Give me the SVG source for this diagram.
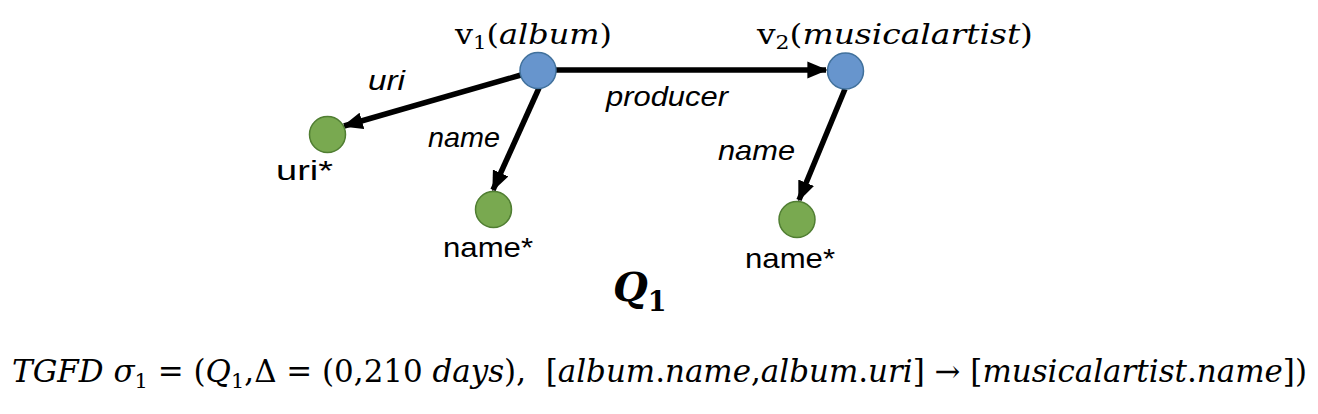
<svg xmlns="http://www.w3.org/2000/svg" width="1318" height="414" viewBox="0 0 1318 414">
<style>
.math{font-family:"DejaVu Serif","Liberation Serif",serif;fill:#000}
.it{font-style:italic}
.lbl{font-family:"Liberation Sans","Open Sans",sans-serif;font-size:28px;font-style:italic;fill:#000}
.attr{font-family:"Liberation Sans","Open Sans",sans-serif;font-size:28px;fill:#000}
.blue{fill:#6795CD;stroke:#41719C;stroke-width:1.5}
.green{fill:#79A950;stroke:#507E32;stroke-width:1.5}
.edge{stroke:#000;stroke-width:5.5;fill:none;marker-end:url(#ah)}
</style>
<defs>
<marker id="ah" viewBox="0 0 12 10" refX="11" refY="5" markerWidth="3.7" markerHeight="3.1" orient="auto" markerUnits="strokeWidth">
<path d="M0,0 L12,5 L0,10 z" fill="#000"/>
</marker>
</defs>
<rect width="1318" height="414" fill="#fff"/>
<g id="connectors">
<line class="edge" x1="521" y1="75" x2="344" y2="126"/>
<line class="edge" x1="556" y1="70" x2="826" y2="70"/>
<line class="edge" x1="539" y1="88" x2="493" y2="190"/>
<line class="edge" x1="845" y1="89" x2="799" y2="200"/>
<text class="lbl" x="368" y="90" textLength="37" lengthAdjust="spacingAndGlyphs">uri</text>
<text class="lbl" x="606" y="106" textLength="122" lengthAdjust="spacingAndGlyphs">producer</text>
<text class="lbl" x="428" y="147" textLength="72" lengthAdjust="spacingAndGlyphs">name</text>
<text class="lbl" x="718" y="160" textLength="77" lengthAdjust="spacingAndGlyphs">name</text>
</g>
<g id="v1">
<circle class="blue" cx="538" cy="70.5" r="18"/>
<text class="math" x="455" y="44" font-size="27" textLength="157" lengthAdjust="spacingAndGlyphs">v<tspan font-size="18" dy="5">1</tspan><tspan dy="-5">(</tspan><tspan class="it">album</tspan>)</text>
</g>
<g id="v2">
<circle class="blue" cx="845.5" cy="71" r="18"/>
<text class="math" x="757" y="44" font-size="27" textLength="276" lengthAdjust="spacingAndGlyphs">v<tspan font-size="18" dy="5">2</tspan><tspan dy="-5">(</tspan><tspan class="it">musicalartist</tspan>)</text>
</g>
<g id="uri_attr">
<circle class="green" cx="327.5" cy="134.5" r="18"/>
<text class="attr" x="276" y="180" textLength="57" lengthAdjust="spacingAndGlyphs">uri*</text>
</g>
<g id="name_attr1">
<circle class="green" cx="493.5" cy="209.5" r="18"/>
<text class="attr" x="443" y="257" textLength="90" lengthAdjust="spacingAndGlyphs">name*</text>
</g>
<g id="name_attr2">
<circle class="green" cx="797" cy="219.5" r="18"/>
<text class="attr" x="745" y="268" textLength="90" lengthAdjust="spacingAndGlyphs">name*</text>
</g>
<g id="title">
<text class="math" x="613" y="301" font-size="40" font-weight="bold"><tspan class="it">Q</tspan><tspan font-size="27" dy="10">1</tspan></text>
</g>
<g id="formula">
<text class="math" x="12" y="382" font-size="31" textLength="1295" lengthAdjust="spacingAndGlyphs"><tspan class="it">TGFD</tspan> <tspan class="it">σ</tspan><tspan font-size="21" dy="6">1</tspan><tspan dy="-6"> = (</tspan><tspan class="it">Q</tspan><tspan font-size="21" dy="6">1</tspan><tspan dy="-6">,Δ = (0,210 </tspan><tspan class="it">days</tspan>),&#160; [<tspan class="it">album</tspan>.<tspan class="it">name</tspan>,<tspan class="it">album</tspan>.<tspan class="it">uri</tspan>] → [<tspan class="it">musicalartist</tspan>.<tspan class="it">name</tspan>])</text>
</g>
</svg>
